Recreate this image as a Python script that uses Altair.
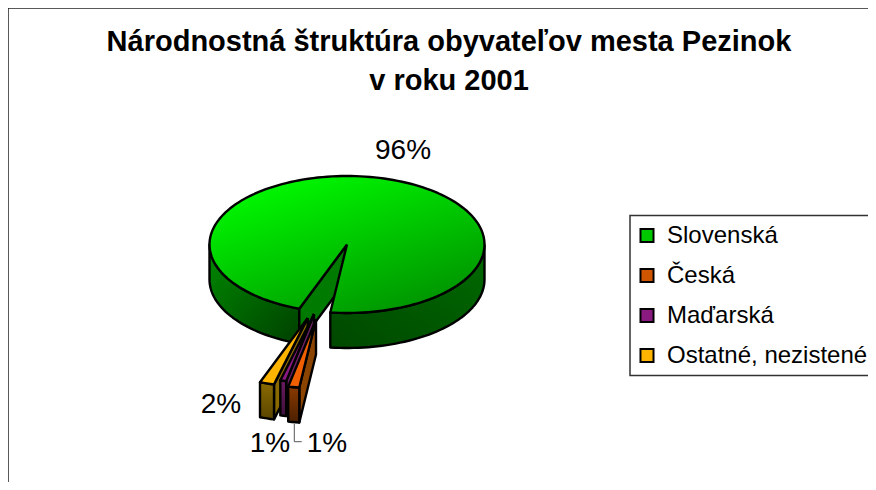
import math
import altair as alt
import pandas as pd

# ---- chart values ----
categories = ["Slovenská", "Česká", "Maďarská", "Ostatné, nezistené"]
shares = [96.3, 1.3, 0.7, 1.7]
labels = ["96%", "1%", "1%", "2%"]
legend_colors = ["#00C800", "#D05500", "#8A1A80", "#FFB400"]
title_lines = ["Národnostná štruktúra obyvateľov mesta Pezinok", "v roku 2001"]

# ---- projection of the pie (picture coordinates) ----
W, H = 860, 474
CX, CY, RX, RY, DEPTH = 347, 244.5, 137.5, 68.5, 35
START = 200.3  # clockwise from 12 o'clock, first slice starts here
APEX = {"Česká": (316, 319.5), "Maďarská": (314, 314), "Ostatné, nezistené": (307.7, 318)}

sx = alt.Scale(domain=[8, 8 + W], range=[0, W])
sy = alt.Scale(domain=[8, 8 + H], range=[0, H])


def rim(cx, cy, deg):
    a = math.radians(deg)
    return (cx + RX * math.sin(a), cy - RY * math.cos(a))


def arc(cx, cy, a0, a1, dy=0):
    n = max(2, int(abs(a1 - a0) / 2) + 2)
    out = []
    for i in range(n):
        x, y = rim(cx, cy, a0 + (a1 - a0) * i / (n - 1))
        out.append((x, y + dy))
    return out


def grad(c0, c1, x1=0, y1=0, x2=1, y2=1):
    return alt.Gradient(
        gradient="linear", x1=x1, y1=y1, x2=x2, y2=y2,
        stops=[alt.GradientStop(color=c0, offset=0), alt.GradientStop(color=c1, offset=1)],
    )


def poly(points, fill, sw=2.4):
    pts = list(points) + [points[0]]
    df = pd.DataFrame({"x": [p[0] for p in pts], "y": [p[1] for p in pts], "i": range(len(pts))})
    return alt.Chart(df).mark_line(fill=fill, stroke="black", strokeWidth=sw, strokeJoin="round").encode(
        x=alt.X("x:Q", scale=sx, axis=None),
        y=alt.Y("y:Q", scale=sy, axis=None),
        order="i:Q",
    )


layers = []

# hidden layer that only carries the legend
legend_df = pd.DataFrame({"c": categories, "x": [CX] * 4, "y": [CY] * 4})
layers.append(
    alt.Chart(legend_df).mark_point(filled=True, shape="square", size=0, opacity=1).encode(
        x=alt.X("x:Q", scale=sx, axis=None),
        y=alt.Y("y:Q", scale=sy, axis=None),
        color=alt.Color(
            "c:N",
            sort=categories,
            scale=alt.Scale(domain=categories, range=legend_colors),
            title=None,
            legend=alt.Legend(
                orient="none", legendX=622, legendY=207.5,
                symbolType="square", symbolSize=170, symbolStrokeColor="black", symbolStrokeWidth=2,
                symbolOpacity=1,
                labelFont="Liberation Sans", labelFontSize=24, labelColor="black", labelOffset=8,
                rowPadding=10, padding=5, clipHeight=30, strokeColor="#333333",
                labelLimit=400,
            ),
        ),
    )
)

# slice angles
total = sum(shares)
angles = []
a = START
for s in shares:
    b = a + s / total * 360
    angles.append((a, b))
    a = b

# green slice
g0, g1 = angles[0]
layers.append(poly(arc(CX, CY, 90, g1 - 360) + arc(CX, CY, g1 - 360, 90, DEPTH), grad("#006A00", "#004800", 1, 0, 0, 1)))
layers.append(poly(arc(CX, CY, g0, 270) + arc(CX, CY, 270, g0, DEPTH), grad("#008A00", "#004000", 0, 0, 1, 1)))
rx0, ry0 = rim(CX, CY, g0)
layers.append(poly([(CX, CY), (rx0, ry0), (rx0, ry0 + DEPTH), (CX, CY + DEPTH)], "#007A00"))
layers.append(poly([(CX, CY)] + arc(CX, CY, g0, g1), grad("#00FF00", "#009000", 0.15, 0, 0.8, 1)))

# exploded slices, left to right
styles = {
    "Ostatné, nezistené": ("#FFB400", "#8A6A00", "#5A4500", "#8A6A00"),
    "Maďarská": ("#8A1A80", "#6A1A60", "#3D103A", "#6A2060"),
    "Česká": ("#F06000", "#8A3A00", "#4A2000", "#8A4400"),
}
for c in ["Ostatné, nezistené", "Maďarská", "Česká"]:
    a0, a1 = angles[categories.index(c)]
    ax, ay = APEX[c]
    top, face0, face1, wall = styles[c]
    px, py = rim(ax, ay, a0)
    layers.append(poly([(ax, ay), (px, py), (px, py + DEPTH), (ax, ay + DEPTH)], wall))
    layers.append(poly(arc(ax, ay, a0, a1) + arc(ax, ay, a1, a0, DEPTH), grad(face0, face1, 0, 0, 0, 1)))
    layers.append(poly([(ax, ay)] + arc(ax, ay, a0, a1), top))

# leader line of the Česká label
leader = pd.DataFrame({"x": [294.3, 294.3, 301.7], "y": [424, 441.7, 441.7], "i": [0, 1, 2]})
layers.append(
    alt.Chart(leader).mark_line(stroke="#555555", strokeWidth=1).encode(
        x=alt.X("x:Q", scale=sx, axis=None), y=alt.Y("y:Q", scale=sy, axis=None), order="i:Q"
    )
)

# data labels
lab = pd.DataFrame({"t": labels, "x": [403, 327, 270, 221], "y": [151, 444, 444, 405]})
layers.append(
    alt.Chart(lab).mark_text(font="Liberation Sans", fontSize=28, color="black", align="center", baseline="middle").encode(
        x=alt.X("x:Q", scale=sx, axis=None), y=alt.Y("y:Q", scale=sy, axis=None), text="t:N"
    )
)

# chart frame (top and left edges only)
frame = alt.Chart(pd.DataFrame({"a": [0]}))
layers.append(frame.mark_rule(stroke="#222222", strokeWidth=1.5).encode(x=alt.value(0), y=alt.value(0), y2=alt.value(H)))
layers.append(frame.mark_rule(stroke="#222222", strokeWidth=1.5).encode(y=alt.value(0), x=alt.value(0), x2=alt.value(W)))

chart = (
    alt.layer(*layers)
    .properties(
        width=W,
        height=H,
        padding=0,
        background="white",
        autosize=alt.AutoSizeParams(type="none"),
        title=alt.TitleParams(
            text=title_lines, font="Liberation Sans", fontSize=29, fontWeight="bold", color="black",
            anchor="middle", frame="group", dx=11, dy=92.5, lineHeight=39,
        ),
    )
    .configure_view(stroke=None)
    .configure_legend(strokeWidth=1.5)
)
chart.save("out.html", embed_options={"renderer": "svg", "actions": False})
